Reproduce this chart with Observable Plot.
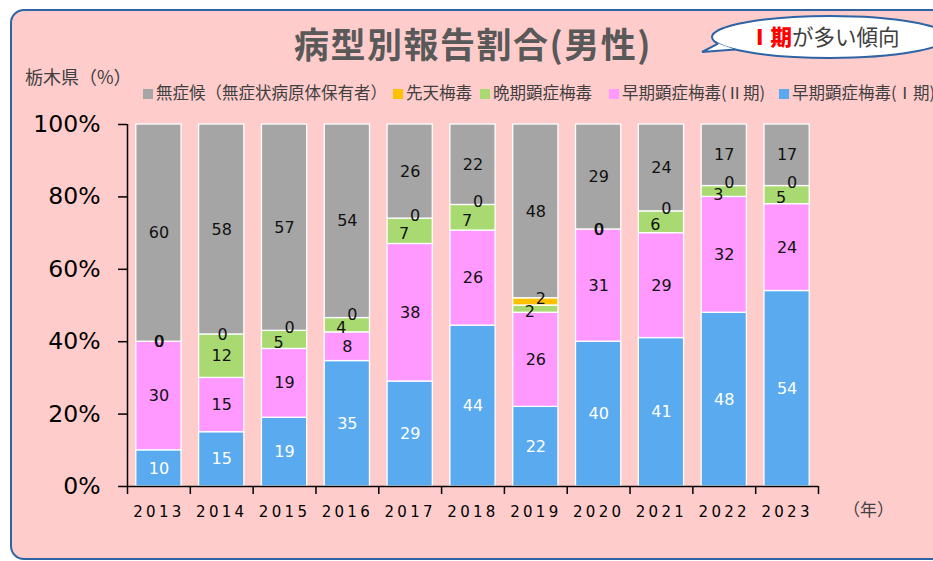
<!DOCTYPE html>
<html><head><meta charset="utf-8">
<script src="https://cdn.jsdelivr.net/npm/d3@7"></script>
<script src="https://cdn.jsdelivr.net/npm/@observablehq/plot@0.6"></script>
<style>
html,body{margin:0;padding:0;background:#fff;width:933px;height:561px;overflow:hidden;position:relative;font-family:"Noto Sans CJK JP","Noto Sans",sans-serif;}
#panel{position:absolute;left:10px;top:9px;width:960px;height:551px;border:2px solid #2E64A4;border-radius:14px;background:#FFCCCC;box-sizing:border-box;}
#title{position:absolute;left:223px;width:500px;top:23px;text-align:center;font-size:35px;line-height:40px;font-weight:bold;color:#595959;letter-spacing:1.5px;white-space:nowrap;}
#unit{position:absolute;left:25px;top:64px;font-size:18px;line-height:24px;color:#404040;white-space:nowrap;}
#legend{position:absolute;left:0;top:80px;width:933px;height:24px;font-size:16.5px;line-height:24px;color:#404040;white-space:nowrap;}
#legend .item{position:absolute;top:0;display:flex;align-items:center;}
#legend .sw{width:10px;height:10px;margin-right:3px;margin-top:3px;}
#year{position:absolute;left:843px;top:498px;font-size:17px;line-height:22px;color:#404040;}
#callout{position:absolute;left:0;top:0;}
#callText{position:absolute;left:749px;top:21px;font-size:21.5px;line-height:30px;color:#404040;white-space:nowrap;}
#callText b{color:#FF0000;font-weight:900;}
#chart{position:absolute;left:0;top:0;}
svg [aria-label="x-axis tick label"] text{letter-spacing:3.3px;}
</style>
</head><body>
<div id="panel"></div>
<div id="title"></div>
<div id="unit"></div>
<div id="legend"></div>
<div id="year"></div>
<svg id="callout" width="933" height="80">
  <ellipse cx="830" cy="37" rx="118" ry="21" fill="#fff" stroke="#2E64A4" stroke-width="2"></ellipse>
  <path d="M718,43.6 L702,52 L735,49.5" fill="#fff" stroke="#2E64A4" stroke-width="2"></path>
</svg>
<div id="callText"></div>
<div id="chart"></div>
<script>
const years = ["2013","2014","2015","2016","2017","2018","2019","2020","2021","2022","2023"];
const stageI       = [10,15,19,35,29,44,22,40,41,48,54];
const stageII      = [30,15,19, 8,38,26,26,31,29,32,24];
const lateSyph     = [ 0,12, 5, 4, 7, 7, 2, 0, 6, 3, 5];
const congenital   = [ 0, 0, 0, 0, 0, 0, 2, 0, 0, 0, 0];
const asymptomatic = [60,58,57,54,26,22,48,29,24,17,17];
const seriesNames = ["早期顕症梅毒(Ⅰ期)","早期顕症梅毒(Ⅱ期)","晩期顕症梅毒","先天梅毒","無症候（無症状病原体保有者）"];
const legendOrder = ["無症候（無症状病原体保有者）","先天梅毒","晩期顕症梅毒","早期顕症梅毒(Ⅱ期)","早期顕症梅毒(Ⅰ期)"];
const legendLeft = [143, 393, 480, 609, 779];
const colors = ["#5AAAF0","#FF99FF","#A9D971","#FFC000","#A5A5A5"];
const yTicks = [0,20,40,60,80,100];
const titleText = "病型別報告割合(男性)";
const unitText = "栃木県（%）";
const yearText = "（年）";
const calloutStrong = "Ⅰ期";
const calloutRest = "が多い傾向";

document.getElementById("title").textContent = titleText;
document.getElementById("unit").textContent = unitText;
document.getElementById("year").textContent = yearText;
document.getElementById("callText").innerHTML = `<b>${calloutStrong}</b>${calloutRest}`;

const colorOf = Object.fromEntries(seriesNames.map((s,i)=>[s,colors[i]]));
const legend = document.getElementById("legend");
legendOrder.forEach((s, j) => {
  const it = document.createElement("div"); it.className = "item"; it.style.left = legendLeft[j] + "px";
  const sw = document.createElement("span"); sw.className = "sw"; sw.style.background = colorOf[s];
  const tx = document.createElement("span"); tx.textContent = s;
  it.appendChild(sw); it.appendChild(tx); legend.appendChild(it);
});

const seriesValues = [stageI, stageII, lateSyph, congenital, asymptomatic];
const rows = [];
years.forEach((year, i) => {
  const total = d3.sum(seriesValues, v => v[i]);
  let acc = 0;
  seriesValues.forEach((vals, k) => {
    const v = vals[i] / total * 100;
    rows.push({year, series: seriesNames[k], k, value: vals[i], late: lateSyph[i], y1: acc, y2: acc + v, mid: acc + v / 2});
    acc += v;
  });
});

const W = 933, H = 561, mL = 127, mR = 115, mT = 124, mB = 75;
const step = (W - mL - mR) / years.length;
const lbl = {fontSize: 16, fontFamily: "DejaVu Sans"};
const small = d => d.late > 0 && d.late < 10;

const chart = Plot.plot({
  width: W, height: H, marginTop: mT, marginBottom: mB, marginLeft: mL, marginRight: mR,
  style: {background: "transparent", overflow: "visible", fontFamily: "DejaVu Sans", color: "black"},
  x: {domain: years, paddingInner: 0.28, paddingOuter: 0.14, round: false, label: null},
  y: {domain: [0, 100], label: null},
  color: {domain: seriesNames, range: colors},
  marks: [
    Plot.barY(rows, {x: "year", y1: "y1", y2: "y2", fill: "series", stroke: "white", strokeWidth: 1.3}),
    Plot.ruleY([0], {stroke: "black", strokeWidth: 1.5}),
    Plot.ruleX(years.slice(0, 1), {x: d => d, dx: -step / 2, stroke: "black", strokeWidth: 1.5}),
    Plot.ruleX(years, {x: d => d, y1: () => 0, y2: () => 0, insetBottom: -8, dx: -step / 2, stroke: "black", strokeWidth: 1.5}),
    Plot.ruleX(years.slice(-1), {x: d => d, y1: () => 0, y2: () => 0, insetBottom: -8, dx: step / 2, stroke: "black", strokeWidth: 1.5}),
    Plot.axisY({ticks: yTicks, tickFormat: d => d + "%", tickSize: 9, tickPadding: 18, fontSize: 23.5, strokeWidth: 1.5}),
    Plot.axisX({tickSize: 0, tickPadding: 20, fontSize: 15}),
    Plot.text(rows.filter(d => d.k === 0), {x: "year", y: "mid", text: d => String(d.value), fill: "white", ...lbl}),
    Plot.text(rows.filter(d => d.k === 1 || d.k === 4), {x: "year", y: "mid", text: d => String(d.value), fill: "#111", ...lbl}),
    Plot.text(rows.filter(d => d.k === 2 && small(d)), {x: "year", y: "mid", text: d => String(d.value), fill: "#111", dx: -6, dy: 3, ...lbl}),
    Plot.text(rows.filter(d => d.k === 2 && !small(d)), {x: "year", y: "mid", text: d => String(d.value), fill: "#111", ...lbl}),
    Plot.text(rows.filter(d => d.k === 3 && small(d)), {x: "year", y: "mid", text: d => String(d.value), fill: "#111", dx: 5, dy: -3, ...lbl}),
    Plot.text(rows.filter(d => d.k === 3 && !small(d)), {x: "year", y: "mid", text: d => String(d.value), fill: "#111", dx: 0.8, ...lbl})
  ]
});
document.getElementById("chart").appendChild(chart);
</script>
</body></html>
